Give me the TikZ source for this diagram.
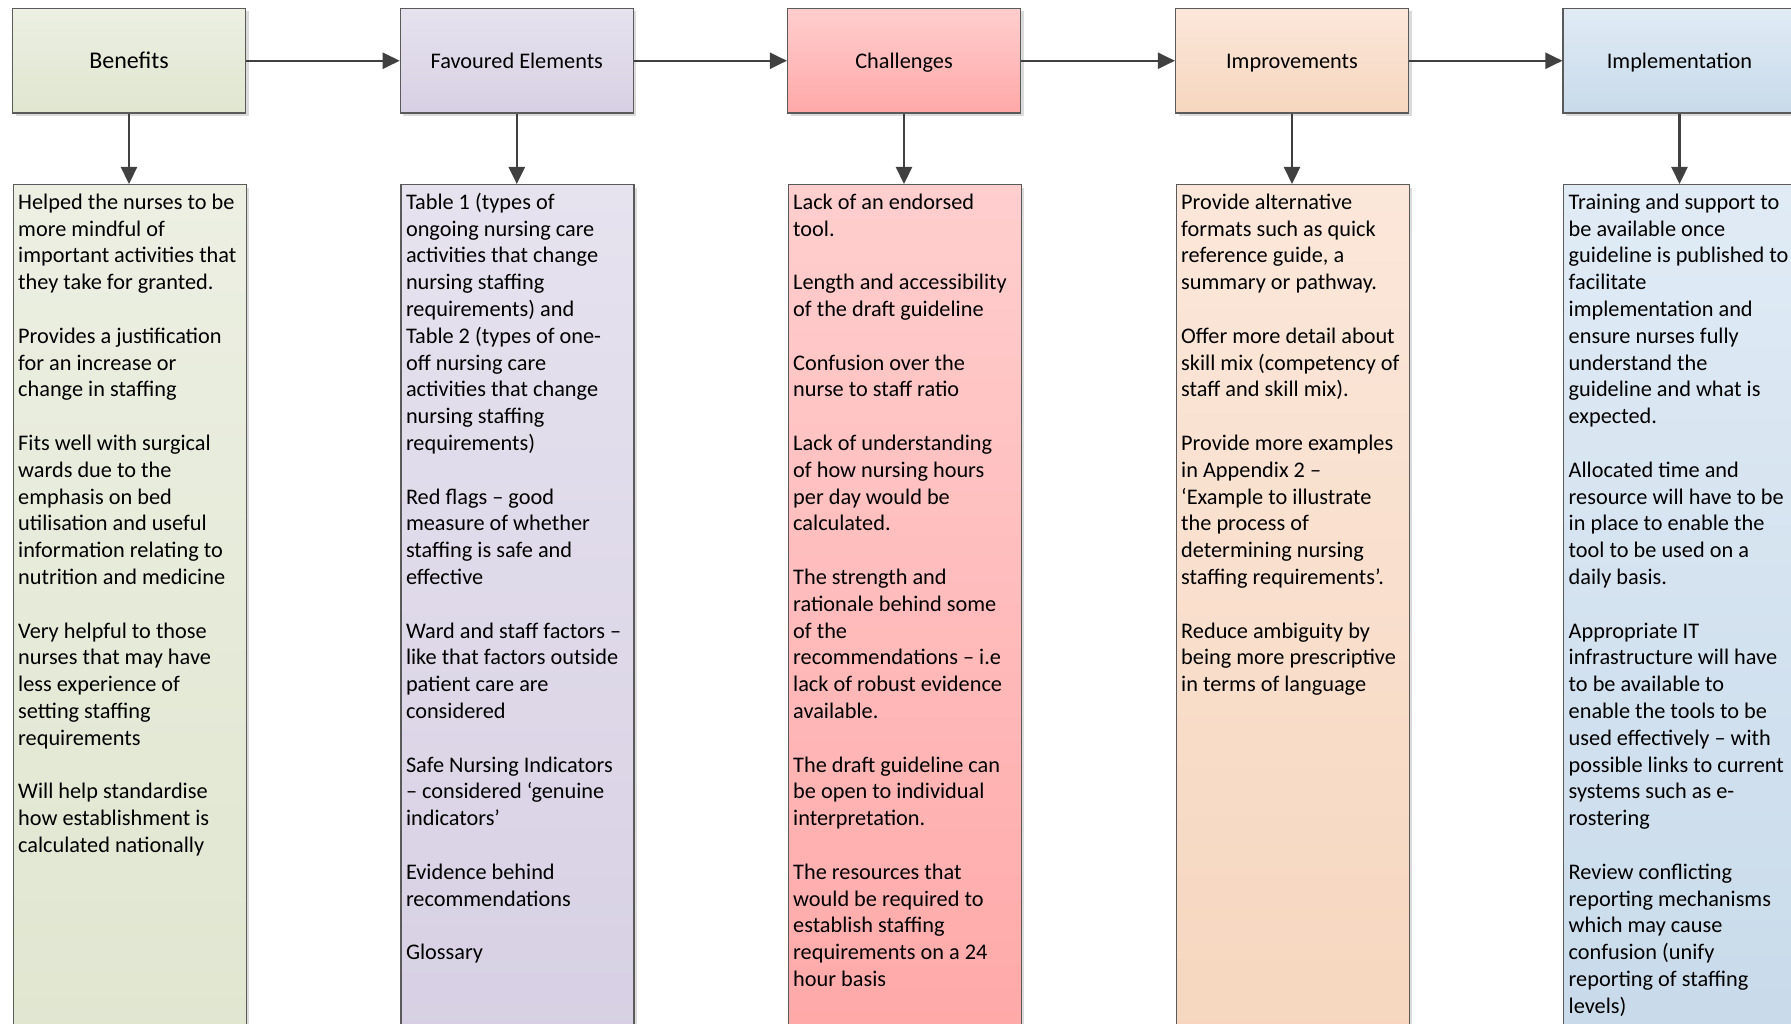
\documentclass[tikz,border=0pt]{standalone}
\usepackage{fontspec}
\setmainfont{Carlito}
\usetikzlibrary{arrows.meta,shadows}
\definecolor{edge}{HTML}{5A5A5A}
\definecolor{arr}{HTML}{404040}
\definecolor{gT}{HTML}{ECEFE2}\definecolor{gB}{HTML}{E0E6D0}
\definecolor{lT}{HTML}{E6E2EE}\definecolor{lB}{HTML}{D7D0E4}
\definecolor{rT}{HTML}{FFCECE}\definecolor{rB}{HTML}{FFA8A8}
\definecolor{pT}{HTML}{FBE7DA}\definecolor{pB}{HTML}{F6D6BE}
\definecolor{bT}{HTML}{E0EBF5}\definecolor{bB}{HTML}{C8DAEA}
\newcommand\gap{\\[26.8pt]}
\newcommand\bodytext[1]{\parbox[t]{300pt}{\fontsize{22.3}{26.8}\selectfont\raggedright #1}}
\tikzset{
  boxbase/.style={draw=edge, line width=1.2pt, rectangle, inner sep=0pt,
    drop shadow={shadow xshift=3pt, shadow yshift=-3pt, fill=black!14, opacity=1}},
  hdr/.style={boxbase, minimum width=233pt, minimum height=104.5pt,
    text height=20pt, text depth=4.9pt,
    font=\fontsize{22.3}{26}\selectfont, text=black},
  bodybox/.style={boxbase, minimum width=233pt, minimum height=860pt, anchor=north west},
  btext/.style={anchor=base west, inner sep=0pt, text=black},
  conn/.style={draw=arr, line width=2.3pt, -{Triangle[length=17pt,width=16pt]}}
}
\begin{document}
\begin{tikzpicture}[x=1pt,y=-1pt]
\useasboundingbox (0,0) rectangle (1791,1024);
\clip (0,0) rectangle (1791,1024);
\fill[white] (0,0) rectangle (1791,1024);
% headers
\node[hdr, top color=gT, bottom color=gB, font=\fontsize{24}{28}\selectfont] (h1) at (129,60.75) {Benefits};
\node[hdr, top color=lT, bottom color=lB] (h2) at (516.8,60.75) {Favoured Elements};
\node[hdr, top color=rT, bottom color=rB] (h3) at (904,60.75) {Challenges};
\node[hdr, top color=pT, bottom color=pB] (h4) at (1292,60.75) {Improvements};
\node[hdr, top color=bT, bottom color=bB] (h5) at (1679.5,60.75) {Implementation};
% bodies
\node[bodybox, top color=gT, bottom color=gB] (b1) at (12.5,184) {};
\node[bodybox, top color=lT, bottom color=lB] (b2) at (400.3,184) {};
\node[bodybox, top color=rT, bottom color=rB] (b3) at (787.5,184) {};
\node[bodybox, top color=pT, bottom color=pB] (b4) at (1175.5,184) {};
\node[bodybox, top color=bT, bottom color=bB] (b5) at (1563,184) {};
% connectors
\draw[conn] (h1.east) -- (h2.west);
\draw[conn] (h2.east) -- (h3.west);
\draw[conn] (h3.east) -- (h4.west);
\draw[conn] (h4.east) -- (h5.west);
\draw[conn] (h1.south) -- (b1.north -| h1.south);
\draw[conn] (h2.south) -- (b2.north -| h2.south);
\draw[conn] (h3.south) -- (b3.north -| h3.south);
\draw[conn] (h4.south) -- (b4.north -| h4.south);
\draw[conn] (h5.south) -- (b5.north -| h5.south);
% texts
\node[btext] (t1) at (18,209.3) {\bodytext{Helped the nurses to be\\more mindful of\\important activities that\\they take for granted.\gap
Provides a justification\\for an increase or\\change in staffing\gap
Fits well with surgical\\wards due to the\\emphasis on bed\\utilisation and useful\\information relating to\\nutrition and medicine\gap
Very helpful to those\\nurses that may have\\less experience of\\setting staffing\\requirements\gap
Will help standardise\\how establishment is\\calculated nationally}};
\node[btext] (t2) at (405.8,209.3) {\bodytext{Table 1 (types of\\ongoing nursing care\\activities that change\\nursing staffing\\requirements) and\\Table 2 (types of one-\\off nursing care\\activities that change\\nursing staffing\\requirements)\gap
Red flags – good\\measure of whether\\staffing is safe and\\effective\gap
Ward and staff factors –\\like that factors outside\\patient care are\\considered\gap
Safe Nursing Indicators\\– considered ‘genuine\\indicators’\gap
Evidence behind\\recommendations\gap
Glossary}};
\node[btext] (t3) at (793,209.3) {\bodytext{Lack of an endorsed\\tool.\gap
Length and accessibility\\of the draft guideline\gap
Confusion over the\\nurse to staff ratio\gap
Lack of understanding\\of how nursing hours\\per day would be\\calculated.\gap
The strength and\\rationale behind some\\of the\\recommendations – i.e\\lack of robust evidence\\available.\gap
The draft guideline can\\be open to individual\\interpretation.\gap
The resources that\\would be required to\\establish staffing\\requirements on a 24\\hour basis}};
\node[btext] (t4) at (1181,209.3) {\bodytext{Provide alternative\\formats such as quick\\reference guide, a\\summary or pathway.\gap
Offer more detail about\\skill mix (competency of\\staff and skill mix).\gap
Provide more examples\\in Appendix 2 –\\‘Example to illustrate\\the process of\\determining nursing\\staffing requirements’.\gap
Reduce ambiguity by\\being more prescriptive\\in terms of language}};
\node[btext] (t5) at (1568.5,209.3) {\bodytext{Training and support to\\be available once\\guideline is published to\\facilitate\\implementation and\\ensure nurses fully\\understand the\\guideline and what is\\expected.\gap
Allocated time and\\resource will have to be\\in place to enable the\\tool to be used on a\\daily basis.\gap
Appropriate IT\\infrastructure will have\\to be available to\\enable the tools to be\\used effectively – with\\possible links to current\\systems such as e-\\rostering\gap
Review conflicting\\reporting mechanisms\\which may cause\\confusion (unify\\reporting of staffing\\levels)}};
\end{tikzpicture}
\end{document}
